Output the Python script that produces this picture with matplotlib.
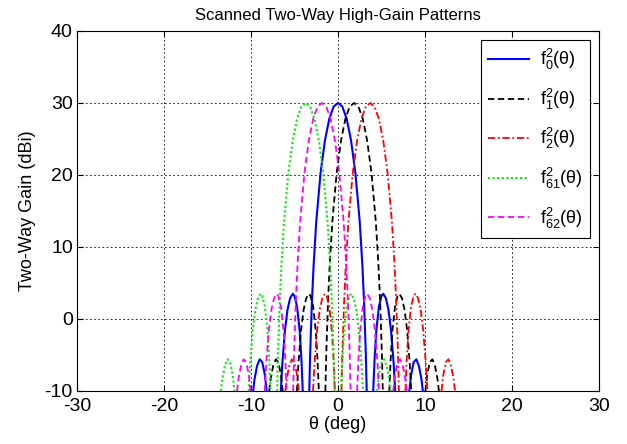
import numpy as np
import matplotlib as mpl
mpl.use('Agg')
import matplotlib.pyplot as plt

nan = np.nan

# gain levels (dBi), same lobe shape for every scanned beam
gain_db = [-10, -8.4, -6.5, -5.6, -6.0, -7.8, -10, nan,
           -10, -6.2, -1.6, 1.3, 2.9, 3.5, 3.2, 1.7, -1.7, -5.7, -10, nan,
           -10, -4.9, 2.3, 7.5, 13.5, 20.3, 24.8, 27.8, 29.5, 30, 29.5, 27.8, 24.8, 20.3, 13.5, 7.5, 2.3, -4.9, -10, nan,
           -10, -5.7, -1.7, 1.7, 3.2, 3.5, 2.9, 1.3, -1.6, -6.2, -10, nan,
           -10, -7.8, -6.0, -5.6, -6.5, -8.4, -10]

theta_f0 = [-9.75, -9.6, -9.3, -9.0, -8.7, -8.4, -8.2, nan,
            -6.57, -6.4, -6.1, -5.8, -5.5, -5.2, -5.0, -4.7, -4.4, -4.2, -4.05, nan,
            -3.3, -3.2, -3.0, -2.8, -2.5, -2.0, -1.5, -1.0, -0.5, 0.0, 0.5, 1.0, 1.5, 2.0, 2.5, 2.8, 3.0, 3.2, 3.3, nan,
            4.05, 4.2, 4.4, 4.7, 5.0, 5.2, 5.5, 5.8, 6.1, 6.4, 6.57, nan,
            8.2, 8.4, 8.7, 9.0, 9.3, 9.6, 9.75]

theta_f1 = [-7.9, -7.75, -7.45, -7.15, -6.85, -6.55, -6.35, nan,
            -4.72, -4.55, -4.25, -3.95, -3.65, -3.35, -3.15, -2.85, -2.55, -2.35, -2.2, nan,
            -1.45, -1.35, -1.15, -0.95, -0.65, -0.15, 0.35, 0.85, 1.35, 1.85, 2.35, 2.85, 3.35, 3.85, 4.35, 4.65, 4.85, 5.05, 5.15, nan,
            5.9, 6.05, 6.25, 6.55, 6.85, 7.05, 7.35, 7.65, 7.95, 8.25, 8.42, nan,
            10.05, 10.25, 10.55, 10.85, 11.15, 11.45, 11.6]

theta_f2 = [-6.05, -5.9, -5.6, -5.3, -5.0, -4.7, -4.5, nan,
            -2.87, -2.7, -2.4, -2.1, -1.8, -1.5, -1.3, -1.0, -0.7, -0.5, -0.35, nan,
            0.4, 0.5, 0.7, 0.9, 1.2, 1.7, 2.2, 2.7, 3.2, 3.7, 4.2, 4.7, 5.2, 5.7, 6.2, 6.5, 6.7, 6.9, 7.0, nan,
            7.75, 7.9, 8.1, 8.4, 8.7, 8.9, 9.2, 9.5, 9.8, 10.1, 10.27, nan,
            11.9, 12.1, 12.4, 12.7, 13.0, 13.3, 13.45]

theta_f61 = [-13.45, -13.3, -13.0, -12.7, -12.4, -12.1, -11.9, nan,
             -10.27, -10.1, -9.8, -9.5, -9.2, -8.9, -8.7, -8.4, -8.1, -7.9, -7.75, nan,
             -7.0, -6.9, -6.7, -6.5, -6.2, -5.7, -5.2, -4.7, -4.2, -3.7, -3.2, -2.7, -2.2, -1.7, -1.2, -0.9, -0.7, -0.5, -0.4, nan,
             0.35, 0.5, 0.7, 1.0, 1.3, 1.5, 1.8, 2.1, 2.4, 2.7, 2.87, nan,
             4.5, 4.7, 5.0, 5.3, 5.6, 5.9, 6.05]

theta_f62 = [-11.6, -11.45, -11.15, -10.85, -10.55, -10.25, -10.05, nan,
             -8.42, -8.25, -7.95, -7.65, -7.35, -7.05, -6.85, -6.55, -6.25, -6.05, -5.9, nan,
             -5.15, -5.05, -4.85, -4.65, -4.35, -3.85, -3.35, -2.85, -2.35, -1.85, -1.35, -0.85, -0.35, 0.15, 0.65, 0.95, 1.15, 1.35, 1.45, nan,
             2.2, 2.35, 2.55, 2.85, 3.15, 3.35, 3.65, 3.95, 4.25, 4.55, 4.72, nan,
             6.35, 6.55, 6.85, 7.15, 7.45, 7.75, 7.9]

labels = [r'f$_0^2$(θ)', r'f$_1^2$(θ)', r'f$_2^2$(θ)', r'f$_{61}^2$(θ)', r'f$_{62}^2$(θ)']

plt.rcParams['font.family'] = ['Liberation Sans', 'DejaVu Sans']
plt.rcParams['mathtext.fontset'] = 'custom'
plt.rcParams['mathtext.rm'] = 'Liberation Sans'
plt.rcParams['mathtext.it'] = 'Liberation Sans'
plt.rcParams['axes.unicode_minus'] = False

fig = plt.figure(figsize=(6.27, 4.44), dpi=100)
ax = fig.add_axes([0.1228, 0.1194, 0.8325, 0.8108])

ax.plot(theta_f0, gain_db, color='#0000ff', ls='-', lw=1.5, label=labels[0])
ax.plot(theta_f1, gain_db, color='black', ls=(0, (3.5, 2)), lw=1.3, label=labels[1])
ax.plot(theta_f2, gain_db, color='red', ls=(0, (4, 1.5, 1, 1.5)), lw=1.3, label=labels[2])
ax.plot(theta_f61, gain_db, color='#00ee00', ls=(0, (1, 1.2)), lw=1.5, label=labels[3])
ax.plot(theta_f62, gain_db, color='#ff00ff', ls=(0, (3.5, 2)), lw=1.3, label=labels[4])

ax.set_xlim(-30, 30)
ax.set_ylim(-10, 40)
ax.set_xticks(np.arange(-30, 31, 10))
ax.set_yticks(np.arange(-10, 41, 10))
ax.grid(True, color='black', ls=(0, (2, 3)), lw=0.6)
ax.tick_params(direction='in', labelsize=14, top=True, right=True, length=4)
ax.tick_params(axis='x', pad=5)
ax.tick_params(axis='y', pad=3)
for s in ax.spines.values():
    s.set_linewidth(0.8)

ax.set_title('Scanned Two-Way High-Gain Patterns', fontsize=12, pad=8)
ax.set_xlabel('θ (deg)', fontsize=13, labelpad=1)
ax.set_ylabel('Two-Way Gain (dBi)', fontsize=13, labelpad=6)

leg = ax.legend(loc='upper right', fontsize=13, handlelength=2.3, labelspacing=0.8,
                handletextpad=0.6, fancybox=False, edgecolor='black', framealpha=1,
                borderaxespad=0.5)
leg.get_frame().set_linewidth(0.8)

fig.savefig('out.png', dpi=100)
